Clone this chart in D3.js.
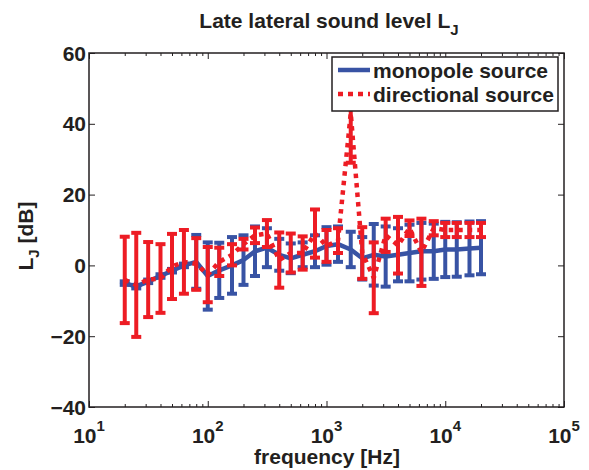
<!DOCTYPE html>
<html>
<head>
<meta charset="utf-8">
<script src="https://cdn.jsdelivr.net/npm/d3@7"></script>
<style>
  html, body { margin: 0; padding: 0; background: #fff; }
  svg { display: block; }
  text { font-family: "Liberation Sans", Arial, Helvetica, sans-serif; font-weight: bold; fill: #231f20; }
</style>
</head>
<body>
<svg id="chart" width="589" height="470"></svg>
<script>
// ---- data ----
const frequencies = [20, 25, 31.5, 40, 50, 63, 80, 100, 125, 160, 200, 250, 315, 400, 500, 630,
  800, 1000, 1250, 1600, 2000, 2500, 3150, 4000, 5000, 6300, 8000, 10000, 12500, 16000, 20000];
const monopoleMean = [-5, -6, -4.5, -3, -1.5, 0, 1, -3, -1.4, 0, 1.5, 4, 5, 3, 2, 3,
  4, 5.5, 6, 4.5, 2, 3, 2.5, 3, 3.5, 4, 4, 4.5, 4.5, 4.8, 5];
const monopoleErr = [0.5, 0.5, 0.5, 0.5, 0.5, 0.5, 7.6, 9.5, 7.8, 8, 7, 7, 5.5, 4.5, 4.2, 3.5,
  4.5, 5.3, 5, 5, 6, 8.7, 8.5, 7.5, 8, 8, 7.8, 7.8, 7.7, 7.6, 7.5];
const directionalMean = [-4.1, -5.5, -4, -3.7, -0.3, 1, 0.4, -2.6, 1, 3, 6, 8.5, 9, 1.5, 3.5, 3.5,
  9, 5.5, 7, 43, 3.5, -3.5, 8.5, 5.7, 10.5, 3.7, 10.5, 10, 10, 10, 10];
const directionalErr = [12.2, 14.7, 10.6, 9.7, 9.2, 9, 7.3, 7.8, 4, 3, 1.5, 2.2, 3.8, 7.8, 5.5, 4.7,
  6.8, 4.5, 3.5, 14, 7.3, 10, 4.7, 8, 2.2, 9.5, 2, 2, 2, 2, 2];
const seriesNames = ["monopole source", "directional source"];
const xMajorTicks = [10, 100, 1000, 10000, 100000];
const xTickBase = "10";
const xTickExponents = ["1", "2", "3", "4", "5"];
const yTicks = [-40, -20, 0, 20, 40, 60];
const titleMain = "Late lateral sound level L";
const titleSub = "J";
const xLabel = "frequency [Hz]";
const yLabelMain = "L";
const yLabelSub = "J";
const yLabelRest = " [dB]";

// ---- layout ----
const svg = d3.select("#chart");
const pL = 89, pR = 564, pT = 53, pB = 407;
const blue = "#3853a4", red = "#ed1c24";

const x = d3.scaleLog().domain([10, 100000]).range([pL, pR]);
const y = d3.scaleLinear().domain([-40, 60]).range([pB, pT]);

svg.append("defs").append("clipPath").attr("id", "plotclip")
  .append("rect").attr("x", pL).attr("y", pT).attr("width", pR - pL).attr("height", pB - pT);

// minor ticks for log axis
const minorTicks = [];
for (let k = 1; k <= 4; k++) for (let m = 2; m <= 9; m++) minorTicks.push(m * Math.pow(10, k));

// axes (ticks inside)
const axisStroke = "#231f20";
function styleAxis(g) {
  g.select(".domain").remove();
  g.selectAll("line").attr("stroke", axisStroke).attr("stroke-width", 1);
}
svg.append("g").attr("transform", `translate(0,${pB})`)
  .call(d3.axisBottom(x).tickValues(xMajorTicks).tickSize(-6).tickFormat("")).call(styleAxis);
svg.append("g").attr("transform", `translate(0,${pB})`)
  .call(d3.axisBottom(x).tickValues(minorTicks).tickSize(-3).tickFormat("")).call(styleAxis);
svg.append("g").attr("transform", `translate(0,${pT})`)
  .call(d3.axisTop(x).tickValues(xMajorTicks).tickSize(-6).tickFormat("")).call(styleAxis);
svg.append("g").attr("transform", `translate(0,${pT})`)
  .call(d3.axisTop(x).tickValues(minorTicks).tickSize(-3).tickFormat("")).call(styleAxis);
svg.append("g").attr("transform", `translate(${pL},0)`)
  .call(d3.axisLeft(y).tickValues(yTicks).tickSize(-6).tickFormat("")).call(styleAxis);
svg.append("g").attr("transform", `translate(${pR},0)`)
  .call(d3.axisRight(y).tickValues(yTicks).tickSize(-6).tickFormat("")).call(styleAxis);

// tick labels
svg.append("g").selectAll("text").data(yTicks).join("text")
  .attr("x", pL - 3).attr("y", d => y(d)).attr("dy", "0.36em")
  .attr("text-anchor", "end").attr("font-size", 21)
  .text(d => d < 0 ? "\u2212" + Math.abs(d) : d);

const xl = svg.append("g").selectAll("text").data(xMajorTicks).join("text")
  .attr("x", d => x(d)).attr("y", 443).attr("text-anchor", "middle").attr("font-size", 21);
xl.append("tspan").text(xTickBase);
xl.append("tspan").attr("font-size", 15).attr("dy", -12).text((d, i) => xTickExponents[i]);

// series
function drawSeries(mean, err, color, dashed) {
  const g = svg.append("g").attr("clip-path", "url(#plotclip)");
  const pts = frequencies.map((f, i) => ({ f, m: mean[i], e: err[i] }));
  const line = d3.line().x(d => x(d.f)).y(d => y(d.m));
  g.append("path").datum(pts).attr("d", line)
    .attr("fill", "none").attr("stroke", color).attr("stroke-width", 4.5)
    .attr("stroke-dasharray", dashed ? "4.5,5" : null).attr("stroke-linejoin", "round");
  const bars = g.selectAll(null).data(pts).join("g");
  bars.append("line").attr("x1", d => x(d.f)).attr("x2", d => x(d.f))
    .attr("y1", d => y(d.m - d.e)).attr("y2", d => y(d.m + d.e))
    .attr("stroke", color).attr("stroke-width", 4);
  [-1, 1].forEach(s => {
    bars.append("line").attr("x1", d => x(d.f) - 5).attr("x2", d => x(d.f) + 5)
      .attr("y1", d => y(d.m + s * d.e)).attr("y2", d => y(d.m + s * d.e))
      .attr("stroke", color).attr("stroke-width", 4);
  });
}
drawSeries(monopoleMean, monopoleErr, blue, false);
drawSeries(directionalMean, directionalErr, red, true);

// frame
svg.append("rect").attr("x", pL).attr("y", pT).attr("width", pR - pL).attr("height", pB - pT)
  .attr("fill", "none").attr("stroke", axisStroke).attr("stroke-width", 1.5);

// title
const t = svg.append("text").attr("x", 329).attr("y", 28).attr("text-anchor", "middle").attr("font-size", 21);
t.append("tspan").text(titleMain);
t.append("tspan").attr("font-size", 15).attr("dy", 7).text(titleSub);

// x label
svg.append("text").attr("x", 327).attr("y", 464).attr("text-anchor", "middle").attr("font-size", 21).text(xLabel);

// y label
const yl = svg.append("text").attr("transform", "translate(33,236) rotate(-90)")
  .attr("text-anchor", "middle").attr("font-size", 21);
yl.append("tspan").text(yLabelMain);
yl.append("tspan").attr("font-size", 15).attr("dy", 6).text(yLabelSub);
yl.append("tspan").attr("dy", -6).text(yLabelRest);

// legend
const lg = svg.append("g");
lg.append("rect").attr("x", 332).attr("y", 57).attr("width", 226).attr("height", 54)
  .attr("fill", "#fff").attr("stroke", axisStroke).attr("stroke-width", 1.5);
const rows = [{ name: seriesNames[0], color: blue, dash: null, yy: 70 },
              { name: seriesNames[1], color: red, dash: "5,5", yy: 94 }];
rows.forEach(r => {
  lg.append("line").attr("x1", 338).attr("x2", 370).attr("y1", r.yy).attr("y2", r.yy)
    .attr("stroke", r.color).attr("stroke-width", 4.5).attr("stroke-dasharray", r.dash);
  lg.append("text").attr("x", 373).attr("y", r.yy).attr("dy", "0.36em").attr("font-size", 21).text(r.name);
});
</script>
</body>
</html>
